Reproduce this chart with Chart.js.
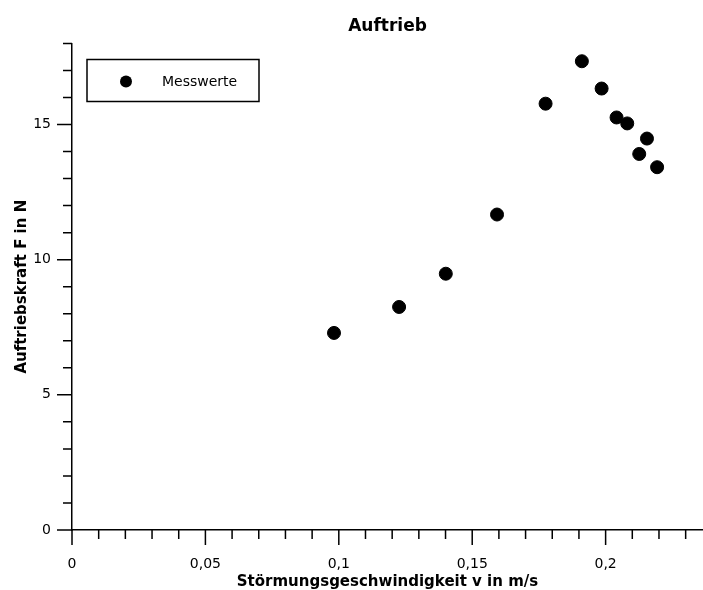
<!DOCTYPE html>
<html>
<head>
<meta charset="utf-8">
<script src="https://cdn.jsdelivr.net/npm/chart.js@4.4.0/dist/chart.umd.min.js"></script>
<style>
  html, body { margin: 0; padding: 0; background: #fff; overflow: hidden; }
  canvas { display: block; }
</style>
</head>
<body>
<canvas id="myChart" width="703" height="590"></canvas>
<script>
var geschwindigkeit = [0.0982, 0.1226, 0.1401, 0.1593, 0.1775, 0.1911, 0.1985, 0.2041, 0.2081, 0.2155, 0.2126, 0.2193];
var kraft = [7.29, 8.25, 9.48, 11.67, 15.77, 17.34, 16.33, 15.26, 15.04, 14.48, 13.91, 13.42];
var serienName = 'Messwerte';

var xTicks = [0, 0.05, 0.1, 0.15, 0.2];
var yTicks = [0, 5, 10, 15];
var xMin = 0, xMax = 0.2365, xMinor = 0.01;
var yMin = 0, yMax = 18, yMinor = 1;

var punkte = geschwindigkeit.map(function (v, i) {
    return { x: v, y: kraft[i] };
});

function komma(v) {
    return String(Math.round(v * 1000) / 1000).replace('.', ',');
}

// Achsen-Striche (groß und klein) nach außen
var tickPlugin = {
    id: 'ticks',
    afterDraw: function (chart) {
        var ctx = chart.ctx;
        var xs = chart.scales.x, ys = chart.scales.y;
        var area = chart.chartArea;
        ctx.save();
        ctx.strokeStyle = '#000';
        ctx.lineWidth = 1.5;
        ctx.beginPath();
        var n = Math.round((xMax - xMin) / xMinor);
        for (var i = 0; i <= n; i++) {
            var v = xMin + i * xMinor;
            if (v > xMax) break;
            var px = xs.getPixelForValue(v);
            var major = Math.abs(v / 0.05 - Math.round(v / 0.05)) < 1e-6;
            ctx.moveTo(px, area.bottom);
            ctx.lineTo(px, area.bottom + (major ? 15 : 9));
        }
        for (var j = 0; j <= yMax; j += yMinor) {
            var py = ys.getPixelForValue(j);
            var majorY = j % 5 === 0;
            ctx.moveTo(area.left, py);
            ctx.lineTo(area.left - (majorY ? 15 : 9), py);
        }
        ctx.stroke();
        ctx.restore();
    }
};

// Legende mit Rahmen
var legendPlugin = {
    id: 'legendBox',
    afterDraw: function (chart) {
        var ctx = chart.ctx;
        ctx.save();
        ctx.strokeStyle = '#000';
        ctx.lineWidth = 1.5;
        ctx.strokeRect(87, 59.5, 172, 42);
        ctx.fillStyle = '#000';
        ctx.beginPath();
        ctx.arc(126, 81.5, 6, 0, Math.PI * 2);
        ctx.fill();
        ctx.font = '14px "DejaVu Sans"';
        ctx.textBaseline = 'middle';
        ctx.fillText(chart.data.datasets[0].label, 162, 82);
        ctx.restore();
    }
};

var ctx = document.getElementById('myChart').getContext('2d');
var myChart = new Chart(ctx, {
    type: 'scatter',
    data: {
        datasets: [{
            label: serienName,
            data: punkte,
            backgroundColor: '#000',
            borderColor: '#000',
            pointRadius: 6.5,
            pointHoverRadius: 6.5
        }]
    },
    options: {
        responsive: false,
        animation: false,
        layout: { padding: 0, autoPadding: false },
        plugins: {
            legend: { display: false },
            tooltip: { enabled: false },
            title: {
                display: true,
                fullSize: false,
                text: 'Auftrieb',
                color: '#000',
                font: { family: 'DejaVu Sans', size: 17, weight: 'bold' },
                padding: { top: 16, bottom: 7 }
            }
        },
        scales: {
            x: {
                type: 'linear',
                min: xMin,
                max: xMax,
                grid: { display: false, drawTicks: false },
                border: { display: true, color: '#000', width: 1.5 },
                ticks: {
                    stepSize: 0.05,
                    includeBounds: false,
                    padding: 26,
                    color: '#000',
                    maxRotation: 0,
                    font: { family: 'DejaVu Sans', size: 14 },
                    callback: function (v) { return komma(v); }
                },
                title: {
                    display: true,
                    text: 'Störmungsgeschwindigkeit v in m/s',
                    color: '#000',
                    font: { family: 'DejaVu Sans', size: 15, weight: 'bold', lineHeight: 1 },
                    padding: { top: 0, bottom: 0 }
                },
                afterFit: function (scale) {
                    scale.height = 60;
                    scale.paddingRight = 0;
                }
            },
            y: {
                type: 'linear',
                min: yMin,
                max: yMax,
                grid: { display: false, drawTicks: false },
                border: { display: true, color: '#000', width: 1.5 },
                ticks: {
                    stepSize: 5,
                    includeBounds: false,
                    padding: 21,
                    color: '#000',
                    font: { family: 'DejaVu Sans', size: 14 },
                    callback: function (v) { return komma(v); }
                },
                title: {
                    display: true,
                    text: 'Auftriebskraft F in N',
                    color: '#000',
                    font: { family: 'DejaVu Sans', size: 15, weight: 'bold' },
                    padding: { top: 13, bottom: 4 }
                },
                afterFit: function (scale) { scale.width = 72; }
            }
        }
    },
    plugins: [tickPlugin, legendPlugin]
});
</script>
</body>
</html>
